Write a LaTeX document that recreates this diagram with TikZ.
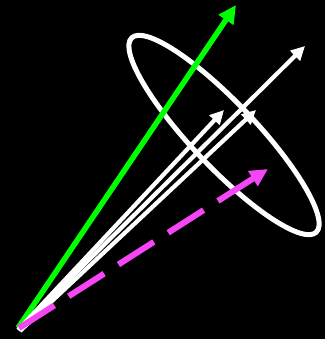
\documentclass[tikz,border=0pt]{standalone}
\usetikzlibrary{arrows.meta}
\definecolor{vgreen}{RGB}{0,255,0}
\definecolor{vmag}{RGB}{245,70,245}
\begin{document}
\begin{tikzpicture}[x=1pt,y=-1pt,
  greenvec/.style={draw=vgreen,line width=5.5pt,-{Triangle[length=18pt,width=17pt]}},
  whitevec/.style={draw=white,line width=4.2pt,-{Triangle[length=14pt,width=13.5pt]}},
  magvec/.style={draw=vmag,line width=6pt,dash pattern=on 42pt off 17pt,-{Triangle[length=18pt,width=17pt]}},
  ring/.style={draw=white,line width=5pt}]
\fill[black] (0,0) rectangle (325,339);
\useasboundingbox (0,0) rectangle (325,339);
\coordinate (og) at (18,328);
\coordinate (ow1) at (19,329);
\coordinate (ow2) at (18,330);
\coordinate (ow3) at (20,331);
\coordinate (om) at (19,328);
\coordinate (tg) at (236,5);
\coordinate (t1) at (305,46);
\coordinate (t2) at (224,110);
\coordinate (t3) at (256,110);
\coordinate (tm) at (268,169);
\coordinate (c) at (224,135);
\draw[ring,rotate around={-46.5:(c)}] (c) ellipse [x radius=134,y radius=32];
\draw[greenvec] (og) -- (tg);
\draw[whitevec] (ow2) -- (t2);
\draw[whitevec] (ow1) -- (t1);
\draw[whitevec] (ow3) -- (t3);
\draw[magvec] (om) -- (tm);
\end{tikzpicture}
\end{document}
